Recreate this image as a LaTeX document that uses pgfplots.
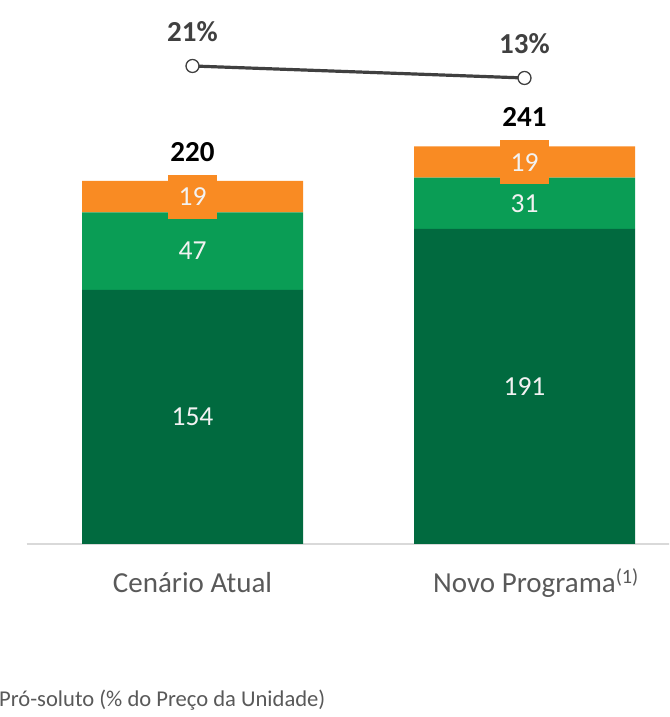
\documentclass[border=0pt]{standalone}
\usepackage{fontspec}
\setmainfont{Carlito}
\usepackage{pgfplots}
\pgfplotsset{compat=1.18}
\definecolor{dkgreen}{HTML}{016A3F}
\definecolor{mdgreen}{HTML}{0A9D55}
\definecolor{myorange}{HTML}{F98B23}
\definecolor{lblgray}{HTML}{595959}
\definecolor{linegray}{HTML}{404040}
\definecolor{axgray}{HTML}{D9D9D9}
\begin{document}
\begin{tikzpicture}[x=1pt,y=1pt]
\useasboundingbox (0,0) rectangle (669,717);
\clip (0,0) rectangle (669,717);
\begin{axis}[
  scale only axis, width=664pt, height=544pt,
  at={(26.5pt,173pt)}, anchor=south west,
  xmin=-0.5, xmax=1.5, ymin=0, ymax=329.7,
  ybar stacked, bar width=221pt,
  axis x line*=bottom, axis y line=none,
  x axis line style={draw=axgray, line width=1.2pt, -},
  xtick={0,1}, xticklabels={Cenário Atual, Novo Programa\rlap{\textsuperscript{(1)}}},
  major tick length=0pt,
  xticklabel style={font=\fontsize{29}{32}\selectfont, text=lblgray, anchor=base, yshift=-49pt},
  ytick=\empty,
  /pgf/number format/assume math mode=true,
  clip=false,
  nodes near coords,
  point meta=explicit,
  every node near coord/.append style={font=\fontsize{27.5}{30}\selectfont, text=white!95!black, anchor=center},
]
\addplot[fill=dkgreen, draw=none] coordinates {(0,154) [154] (1,191) [191]};
\addplot[fill=mdgreen, draw=none] coordinates {(0,47) [47] (1,31) [31]};
\addplot[fill=myorange, draw=none,
  every node near coord/.append style={fill=myorange, inner xsep=11pt, inner ysep=13pt, text height=18pt, text depth=0pt}]
  coordinates {(0,19) [19] (1,19) [19]};
\end{axis}
\begin{axis}[
  scale only axis, width=664pt, height=544pt,
  at={(26.5pt,173pt)}, anchor=south west,
  xmin=-0.5, xmax=1.5, ymin=0, ymax=329.7,
  hide axis, clip=false,
]
\addplot[draw=none, mark=none, nodes near coords, point meta=explicit symbolic,
  every node near coord/.append style={font=\bfseries\fontsize{29}{32}\selectfont, text=black, anchor=center, yshift=29pt}]
  coordinates {(0,220) [220] (1,241) [241]};
\end{axis}
\begin{axis}[
  scale only axis, width=664pt, height=544pt,
  at={(26.5pt,173pt)}, anchor=south west,
  xmin=-0.5, xmax=1.5, ymin=-297.7, ymax=65,
  hide axis, clip=false,
]
\addplot[linegray, line width=3.2pt, mark=*, mark size=6.5pt,
  mark options={fill=white, draw=linegray, line width=1.3pt},
  nodes near coords, point meta=explicit symbolic,
  every node near coord/.append style={font=\bfseries\fontsize{29}{32}\selectfont, text=linegray, anchor=center, yshift=34pt}]
  coordinates {(0,21) [21\%] (1,13) [13\%]};
\end{axis}
\node[anchor=base west, text=lblgray, font=\fontsize{22.6}{26}\selectfont, inner sep=0pt] at (-1,10) {Pró-soluto (\% do Preço da Unidade)};
\end{tikzpicture}
\end{document}
